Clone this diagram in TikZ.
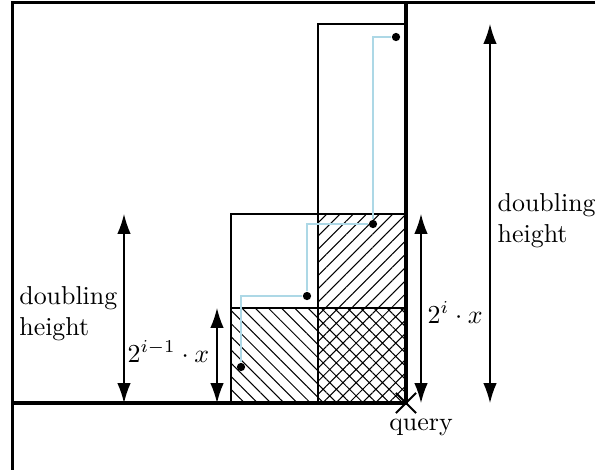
\documentclass[tikz,border=0pt]{standalone}
\usetikzlibrary{arrows.meta, patterns.meta, shapes.misc}
\definecolor{routeblue}{RGB}{173,216,230}
\begin{document}
\begin{tikzpicture}[x=0.386pt, y=-0.386pt,
  frame/.style={line width=1.2pt},
  cell/.style={line width=0.4pt},
  dim/.style={{Latex[length=7.7pt,width=5.2pt]}-{Latex[length=7.7pt,width=5.2pt]}, line width=0.5pt},
  dot/.style={circle, fill, inner sep=0pt, minimum size=3.2pt},
  route/.style={routeblue, line width=0.8pt},
  lbl/.style={align=left, inner sep=2pt}]
\useasboundingbox (0,0) rectangle (599,475);

% hatched cells
\fill[pattern={Lines[angle=-45,distance=3.6pt]}] (231,308) rectangle (318,403);
\fill[pattern={Lines[angle=45,distance=3.6pt]}] (318,214) rectangle (406,308);
\fill[pattern={Hatch[angle=45,distance=3.6pt]}] (318,308) rectangle (406,403);

% cells
\draw[cell] (318,24) rectangle (406,214);
\draw[cell] (231,214) rectangle (406,403);
\draw[cell] (318,214) -- (318,403) (231,308) -- (406,308);

% frame
\draw[frame] (595,2.5) -- (12.5,2.5) -- (12.5,470);
\draw[frame] (12.5,403) -- (406,403) -- (406,2.5);

% points and route
\node[dot] (p1) at (241,367) {};
\node[dot] (p2) at (307,296) {};
\node[dot] (p3) at (373,224) {};
\node[dot] (p4) at (396,37) {};
\draw[route] (p1) |- (p2);
\draw[route] (p2) |- (p3);
\draw[route] (p3) |- (p4);

% query
\node[cross out, draw, thick, minimum size=7pt, inner sep=0pt] (q) at (406,403) {};
\node (qtext) at (421,427) {query};

% dimensions
\coordinate (a1) at (124,214); \coordinate (b1) at (124,403);
\coordinate (a2) at (217,308); \coordinate (b2) at (217,403);
\coordinate (a3) at (421,214); \coordinate (b3) at (421,403);
\coordinate (a4) at (490,24);  \coordinate (b4) at (490,403);
\draw[dim] (a1) -- (b1);
\draw[dim] (a2) -- (b2);
\draw[dim] (a3) -- (b3);
\draw[dim] (a4) -- (b4);
\node[lbl, anchor=east] (dh1) at (123,314) {doubling\\height};
\node[lbl, anchor=base east] (w1) at (215,362) {$2^{i-1}\cdot x$};
\node[lbl, anchor=base west] (w2) at (422,323) {$2^{i}\cdot x$};
\node[lbl, anchor=west] (dh2) at (492,221) {doubling\\height};
\end{tikzpicture}
\end{document}
